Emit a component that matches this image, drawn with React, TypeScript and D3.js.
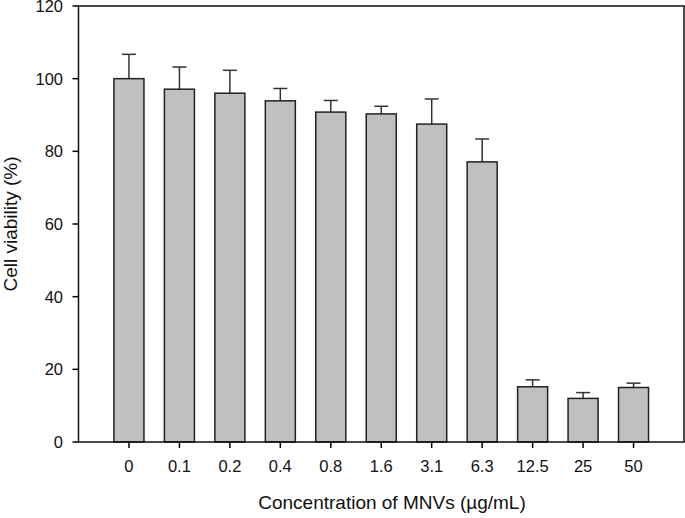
import React from "react";
import * as d3 from "d3";

const categories = ["0", "0.1", "0.2", "0.4", "0.8", "1.6", "3.1", "6.3", "12.5", "25", "50"];
const means = [100, 97.1, 96.0, 93.9, 90.8, 90.3, 87.5, 77.1, 15.2, 12.0, 15.0];
const errTops = [106.7, 103.2, 102.3, 97.3, 94.0, 92.4, 94.4, 83.4, 17.1, 13.6, 16.2];
const yTicks = [0, 20, 40, 60, 80, 100, 120];

export default function App() {
  const W = 685, H = 518;
  const left = 78.5, right = 684, top = 6, bottom = 442;
  const x = d3.scaleLinear().domain([-1, categories.length]).range([left, right]);
  const y = d3.scaleLinear().domain([0, 120]).range([bottom, top]);
  const barW = 30;
  const capW = 14;
  const font = "Arial, 'Liberation Sans', sans-serif";
  return (
    <svg width={W} height={H} style={{ position: "absolute", left: 0, top: 0 }} fontFamily={font}>
      <rect x={0} y={0} width={W} height={H} fill="#fff" />
      {categories.map((c, i) => (
        <g key={c}>
          <line x1={x(i)} x2={x(i)} y1={y(means[i])} y2={y(errTops[i])} stroke="#333" strokeWidth={1.5} />
          <line x1={x(i) - capW / 2} x2={x(i) + capW / 2} y1={y(errTops[i])} y2={y(errTops[i])} stroke="#333" strokeWidth={1.5} />
          <rect x={x(i) - barW / 2} y={y(means[i])} width={barW} height={y(0) - y(means[i])} fill="#c0c0c0" stroke="#222" strokeWidth={1.5} />
          <line x1={x(i)} x2={x(i)} y1={bottom} y2={bottom + 6} stroke="#000" strokeWidth={1.5} />
          <text x={x(i)} y={472} textAnchor="middle" fontSize={16.5} fill="#111">{c}</text>
        </g>
      ))}
      <rect x={left} y={top} width={right - left} height={bottom - top} fill="none" stroke="#111" strokeWidth={1.5} />
      {yTicks.map((t) => (
        <g key={t}>
          <line x1={left - 6} x2={left} y1={y(t)} y2={y(t)} stroke="#000" strokeWidth={1.5} />
          <text x={63} y={y(t)} dy="0.36em" textAnchor="end" fontSize={16.5} fill="#111">{t}</text>
        </g>
      ))}
      <text transform={`translate(17,${(top + bottom) / 2}) rotate(-90)`} textAnchor="middle" fontSize={19} fill="#111">Cell viability (%)</text>
      <text x={392} y={509} textAnchor="middle" fontSize={19} fill="#111">Concentration of MNVs (µg/mL)</text>
    </svg>
  );
}
